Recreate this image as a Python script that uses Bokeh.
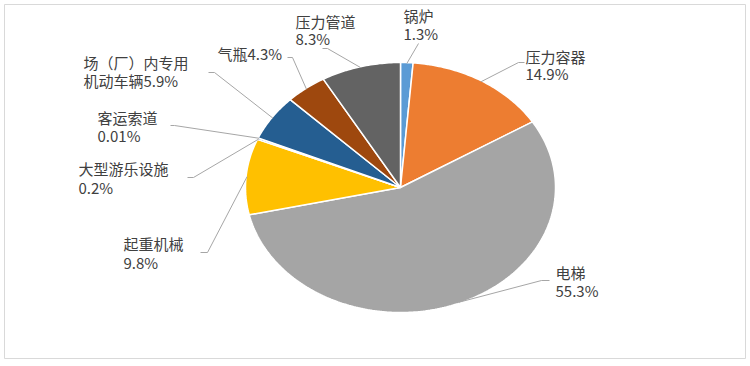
import numpy as np
from bokeh.plotting import figure
from bokeh.models import Range1d
from bokeh.core.properties import value
from bokeh.embed import file_html
from bokeh.resources import INLINE

# ---- data ----
categories = ["锅炉", "压力容器", "电梯", "起重机械", "大型游乐设施",
              "客运索道", "场（厂）内专用机动车辆", "气瓶", "压力管道"]
shares = [1.3, 14.9, 55.3, 9.8, 0.2, 0.01, 5.9, 4.3, 8.3]
colors = ["#5B9BD5", "#ED7D31", "#A5A5A5", "#FFC000", "#4472C4",
          "#70AD47", "#255E91", "#9E480E", "#636363"]

# label layout: text anchor x, first line y, second line y
label_x = [403, 525, 555, 123, 78, 97, 83, 217, 295]
label_y1 = [15, 56, 272, 243, 168, 117, 62, 53, 21]
label_y2 = [33, 73, 290, 262, 187, 135, 80, 53, 38]
# where the name is split between the two lines (None -> name / pct)
label_split = [None, None, None, None, None, None, 7, "one", None]
# leader line elbows and ends (pixel layout)
elbow = [(418, 43), (518, 62), (541, 280), (207, 252), (193, 177),
         (174, 125), (214, 72), (292, 57), (327, 48)]
elbow_end = [(418, 43), (524, 62), (549, 280), (200, 252), (187, 177),
             (170, 125), (208, 72), (287, 57), (322, 48)]

cx, cy, rx, ry = 400, 187, 155, 125

W, H = 746, 360
p = figure(width=W, height=H, x_range=Range1d(0, W), y_range=Range1d(H, 0),
           output_backend="svg", toolbar_location=None, min_border=0,
           background_fill_color="white", border_fill_color="white")
p.axis.visible = False
p.grid.visible = False
p.outline_line_color = None

# chart area border
p.quad(left=[4], right=[745], top=[4], bottom=[358], fill_color=None,
       line_color="#D9D9D9", line_width=1)

total = sum(shares)
cum = np.concatenate([[0], np.cumsum(shares)]) / total * 2 * np.pi

xs, ys = [], []
for i in range(len(shares)):
    a0, a1 = cum[i], cum[i + 1]
    n = max(3, int((a1 - a0) / (2 * np.pi) * 400) + 3)
    t = np.linspace(a0, a1, n)
    px = np.concatenate([[cx], cx + rx * np.sin(t), [cx]])
    py = np.concatenate([[cy], cy - ry * np.cos(t), [cy]])
    xs.append(list(px))
    ys.append(list(py))

p.patches(xs, ys, fill_color=colors, line_color="white", line_width=1.5)

# leader lines
lx, ly = [], []
for i in range(len(shares)):
    m = (cum[i] + cum[i + 1]) / 2
    sx = cx + (rx - 1) * np.sin(m)
    sy = cy - (ry - 1) * np.cos(m)
    lx.append([sx, elbow[i][0], elbow_end[i][0]])
    ly.append([sy, elbow[i][1], elbow_end[i][1]])
p.multi_line(lx, ly, line_color="#A6A6A6", line_width=1)

# labels
t1, t2, tx1, ty1, tx2, ty2 = [], [], [], [], [], []
for i, name in enumerate(categories):
    pct = f"{shares[i]}%"
    s = label_split[i]
    if s is None:
        a, b = name, pct
    elif s == "one":
        a, b = name + pct, ""
    else:
        a, b = name[:s], name[s:] + pct
    t1.append(a); tx1.append(label_x[i]); ty1.append(label_y1[i])
    if b:
        t2.append(b); tx2.append(label_x[i]); ty2.append(label_y2[i])

font = value("Noto Sans CJK SC")
p.text(tx1, ty1, text=t1, text_font=font, text_font_size="15px",
       text_color="#404040", text_align="left", text_baseline="middle")
p.text(tx2, ty2, text=t2, text_font=font, text_font_size="15px",
       text_color="#404040", text_align="left", text_baseline="middle")

open("out.html", "w").write(file_html(p, INLINE))
